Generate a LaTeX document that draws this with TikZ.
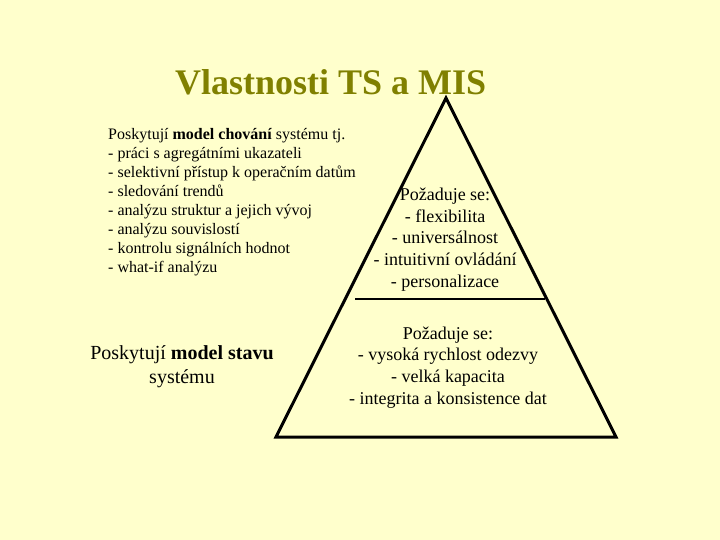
\documentclass[tikz,border=0pt]{standalone}
\usepackage{fontspec}
\setmainfont{Liberation Serif}
\usepackage{tikz}
\tikzset{>=latex}
\usepackage{xcolor}
\definecolor{mybg}{HTML}{FFFFCC}
\definecolor{myolive}{HTML}{808000}

\begin{document}
\begin{tikzpicture}[x=1pt, y=-1pt,
                    title/.style={font=\fontsize{36}{43}\selectfont\bfseries, text=myolive, inner sep=0pt},
                    list/.style={font=\fontsize{16}{19}\selectfont, align=left, inner sep=0pt},
                    req/.style={font=\fontsize{18}{21.6}\selectfont, align=center, inner sep=0pt},
                    edge/.style={black, line width=3pt, line join=miter}]
  % BACKGROUND
  \fill[mybg] (0,0) rectangle (720,540);
  \useasboundingbox (0,0) rectangle (720,540);

  % TRIANGLE
  \coordinate (apex) at (446,98);
  \coordinate (baseL) at (276,437);
  \coordinate (baseR) at (616,437);
  \draw[edge] (apex) -- (baseL) -- (baseR) -- cycle;
  \coordinate (divL) at (355,299);
  \coordinate (divR) at (545,299);
  \draw[black, line width=2.5pt] (divL) -- (divR); % splits the two levels

  % TITLE
  \node[title, anchor=base west] (title) at (175,95) {Vlastnosti TS a MIS};

  % LEFT TEXTS (base = last line)
  \node[list, anchor=base west] (behaviour) at (108,272)
    {Poskytují \textbf{model chování} systému tj.\\
     - práci s agregátními ukazateli\\
     - selektivní přístup k operačním datům\\
     - sledování trendů\\
     - analýzu struktur a jejich vývoj\\
     - analýzu souvislostí\\
     - kontrolu signálních hodnot\\
     - what-if analýzu};
  \node[req, font=\fontsize{20}{24}\selectfont, anchor=base] (state) at (182,383)
    {Poskytují \textbf{model stavu}\\ systému};

  % RIGHT TEXTS (inside triangle)
  \node[req, anchor=base] (upper) at (445,287)
    {Požaduje se:\\
     - flexibilita\\
     - universálnost\\
     - intuitivní ovládání\\
     - personalizace};
  \node[req, anchor=base] (lower) at (448,404)
    {Požaduje se:\\
     - vysoká rychlost odezvy\\
     - velká kapacita\\
     - integrita a konsistence dat};

\end{tikzpicture}
\end{document}
